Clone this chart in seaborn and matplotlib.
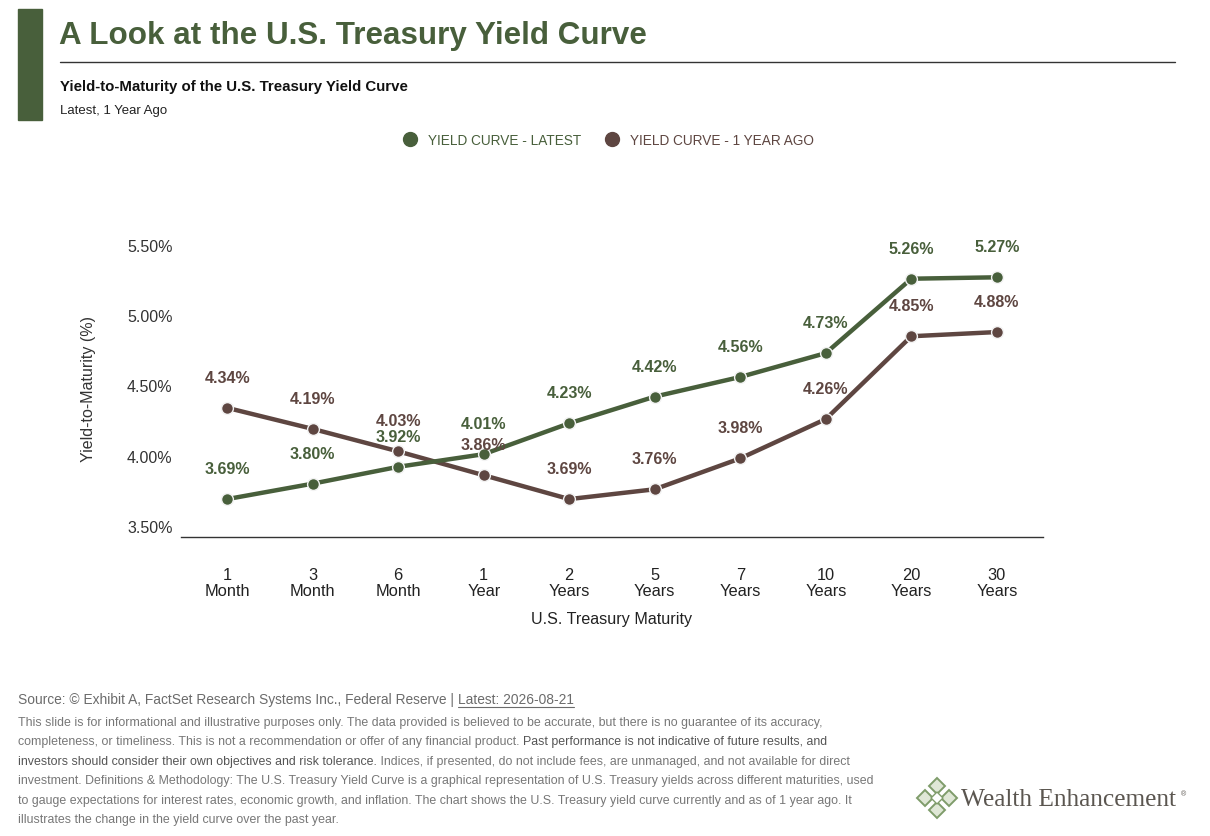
import matplotlib
matplotlib.use('Agg')
import matplotlib.pyplot as plt
from matplotlib import font_manager
from matplotlib.lines import Line2D
from matplotlib.patches import Rectangle, Polygon
import seaborn as sns
import pandas as pd

# data
maturities = ['1\nMonth', '3\nMonth', '6\nMonth', '1\nYear', '2\nYears',
              '5\nYears', '7\nYears', '10\nYears', '20\nYears', '30\nYears']
latest = [3.69, 3.80, 3.92, 4.01, 4.23, 4.42, 4.56, 4.73, 5.26, 5.27]
year_ago = [4.34, 4.19, 4.03, 3.86, 3.69, 3.76, 3.98, 4.26, 4.85, 4.88]
y_ticks = [3.5, 4.0, 4.5, 5.0, 5.5]

GREEN = '#485f3b'
BROWN = '#5e4641'
GREY_TXT = '#6b6b6b'

names = {f.name for f in font_manager.fontManager.ttflist}
NARROW = 'Liberation Sans Narrow' if 'Liberation Sans Narrow' in names else 'Liberation Sans'
REG = 'Liberation Sans'

sns.set_theme(style='white')
plt.rcParams['font.family'] = [REG, 'DejaVu Sans']

df = pd.DataFrame({'pos': list(range(len(maturities))) * 2,
                   'yield': latest + year_ago,
                   'series': ['latest'] * len(latest) + ['ago'] * len(year_ago)})

fig = plt.figure(figsize=(12.1, 8.37), dpi=100)
ax = fig.add_axes([181 / 1210, 1 - 538 / 837, (1043 - 181) / 1210, (538 - 239) / 837])

for key, col in [('ago', BROWN), ('latest', GREEN)]:
    sub = df[df['series'] == key]
    sns.lineplot(data=sub, x='pos', y='yield', ax=ax, color=col, linewidth=3.2,
                 marker='o', markersize=8.5, markeredgecolor='#f2f2f2',
                 markeredgewidth=1.0, legend=False)
    for x, y in zip(sub['pos'], sub['yield']):
        ax.annotate(f'{y:.2f}%', (x, y), textcoords='offset points', xytext=(0, 22),
                    ha='center', va='center', color=col, fontsize=11.5,
                    fontweight='bold', family=REG)

ax.set_xlim(-0.54, 9.54)
ax.set_ylim(3.42, 5.55)
ax.set_xticks(range(len(maturities)))
ax.set_xticklabels(maturities, family=NARROW, fontsize=11.8, linespacing=1.12,
                   color='#222222')
ax.set_yticks(y_ticks)
ax.set_yticklabels([f'{v:.2f}%' for v in y_ticks], fontsize=11.5, color='#333333')
ax.tick_params(axis='x', length=0, pad=21.5)
ax.tick_params(axis='y', length=0, pad=6)
ax.set_xlabel('U.S. Treasury Maturity', family=NARROW, fontsize=11.6,
              color='#222222', labelpad=9)
ax.set_ylabel('Yield-to-Maturity (%)', fontsize=11.5, color='#333333', labelpad=22)
for s in ['top', 'right', 'left']:
    ax.spines[s].set_visible(False)
ax.spines['bottom'].set_color('#333333')
ax.spines['bottom'].set_linewidth(1.0)
ax.grid(False)

# legend
handles = [Line2D([], [], marker='o', linestyle='none', color=GREEN, markersize=10),
           Line2D([], [], marker='o', linestyle='none', color=BROWN, markersize=10)]
fig.legend(handles, ['YIELD CURVE - LATEST', 'YIELD CURVE - 1 YEAR AGO'],
           loc='center', bbox_to_anchor=(0.5, 1 - 141 / 837), ncol=2,
           frameon=False, handletextpad=0.3, columnspacing=1.3,
           prop={'family': NARROW, 'size': 9.8}, labelcolor=[GREEN, BROWN])

# header / footer overlay
bg = fig.add_axes([0, 0, 1, 1], zorder=-1)
bg.set_xlim(0, 1210)
bg.set_ylim(837, 0)
bg.axis('off')
bg.add_patch(Rectangle((18, 10), 24, 111, color=GREEN))
bg.text(59, 36, 'A Look at the U.S. Treasury Yield Curve', family=NARROW,
        fontsize=22.6, fontweight='bold', color=GREEN, va='center')
bg.plot([60, 1175], [63, 63], color='#333333', lw=1.0)
bg.text(60, 87, 'Yield-to-Maturity of the U.S. Treasury Yield Curve', family=NARROW,
        fontsize=10.8, fontweight='bold', color='#111111', va='center')
bg.text(60, 111, 'Latest, 1 Year Ago', family=NARROW, fontsize=9.5, color='#222222',
        va='center')

src = bg.text(18, 700, 'Source: © Exhibit A, FactSet Research Systems Inc., Federal Reserve | ',
              family=NARROW, fontsize=9.9, color=GREY_TXT, va='center')
lat = bg.annotate('Latest: 2026-08-21', xy=(1, 0.5), xycoords=src, va='center',
                  family=NARROW, fontsize=9.9, color=GREY_TXT)
fig.canvas.draw()
bb = lat.get_window_extent()
inv = bg.transData.inverted()
(x0, y0), (x1, y1) = inv.transform([[bb.x0, bb.y0], [bb.x1, bb.y0]])
bg.plot([x0, x1], [y0 + 1, y1 + 1], color=GREY_TXT, lw=0.8)

disc = [
    [('This slide is for informational and illustrative purposes only. The data provided is believed to be accurate, but there is no guarantee of its accuracy,', '#777777')],
    [('completeness, or timeliness. This is not a recommendation or offer of any financial product. ', '#777777'),
     ('Past performance is not indicative of future results, and', '#555555')],
    [('investors should consider their own objectives and risk tolerance.', '#555555'),
     (' Indices, if presented, do not include fees, are unmanaged, and not available for direct', '#777777')],
    [('investment. Definitions & Methodology: The U.S. Treasury Yield Curve is a graphical representation of U.S. Treasury yields across different maturities, used', '#777777')],
    [('to gauge expectations for interest rates, economic growth, and inflation. The chart shows the U.S. Treasury yield curve currently and as of 1 year ago. It', '#777777')],
    [('illustrates the change in the yield curve over the past year.', '#777777')],
]
for i, parts in enumerate(disc):
    y = 723 + i * 19.5
    prev = None
    for txt, col in parts:
        if prev is None:
            prev = bg.text(18, y, txt, family=NARROW, fontsize=8.9, color=col, va='center')
        else:
            prev = bg.annotate(txt, xy=(1, 0.5), xycoords=prev, va='center',
                               family=NARROW, fontsize=8.9, color=col)

# logo
lg = '#7f9c6a'
for dx, dy in [(0, -12), (0, 12), (-12, 0), (12, 0)]:
    cx, cy = 937 + dx, 799 + dy
    bg.add_patch(Polygon([(cx, cy - 8), (cx + 8, cy), (cx, cy + 8), (cx - 8, cy)],
                         closed=True, fc='#dfe7d6', ec=lg, lw=1.4))
bg.add_patch(Polygon([(937, 793), (943, 799), (937, 805), (931, 799)], closed=True,
                     fc='white', ec=lg, lw=1.0))
bg.text(961, 800, 'Wealth Enhancement', family=['Liberation Serif', 'DejaVu Serif'],
        fontsize=18.3, color='#5b5650', va='center')
bg.text(1181, 795, '®', fontsize=5, color='#5b5650', va='center')

fig.savefig('out.png', dpi=100)
